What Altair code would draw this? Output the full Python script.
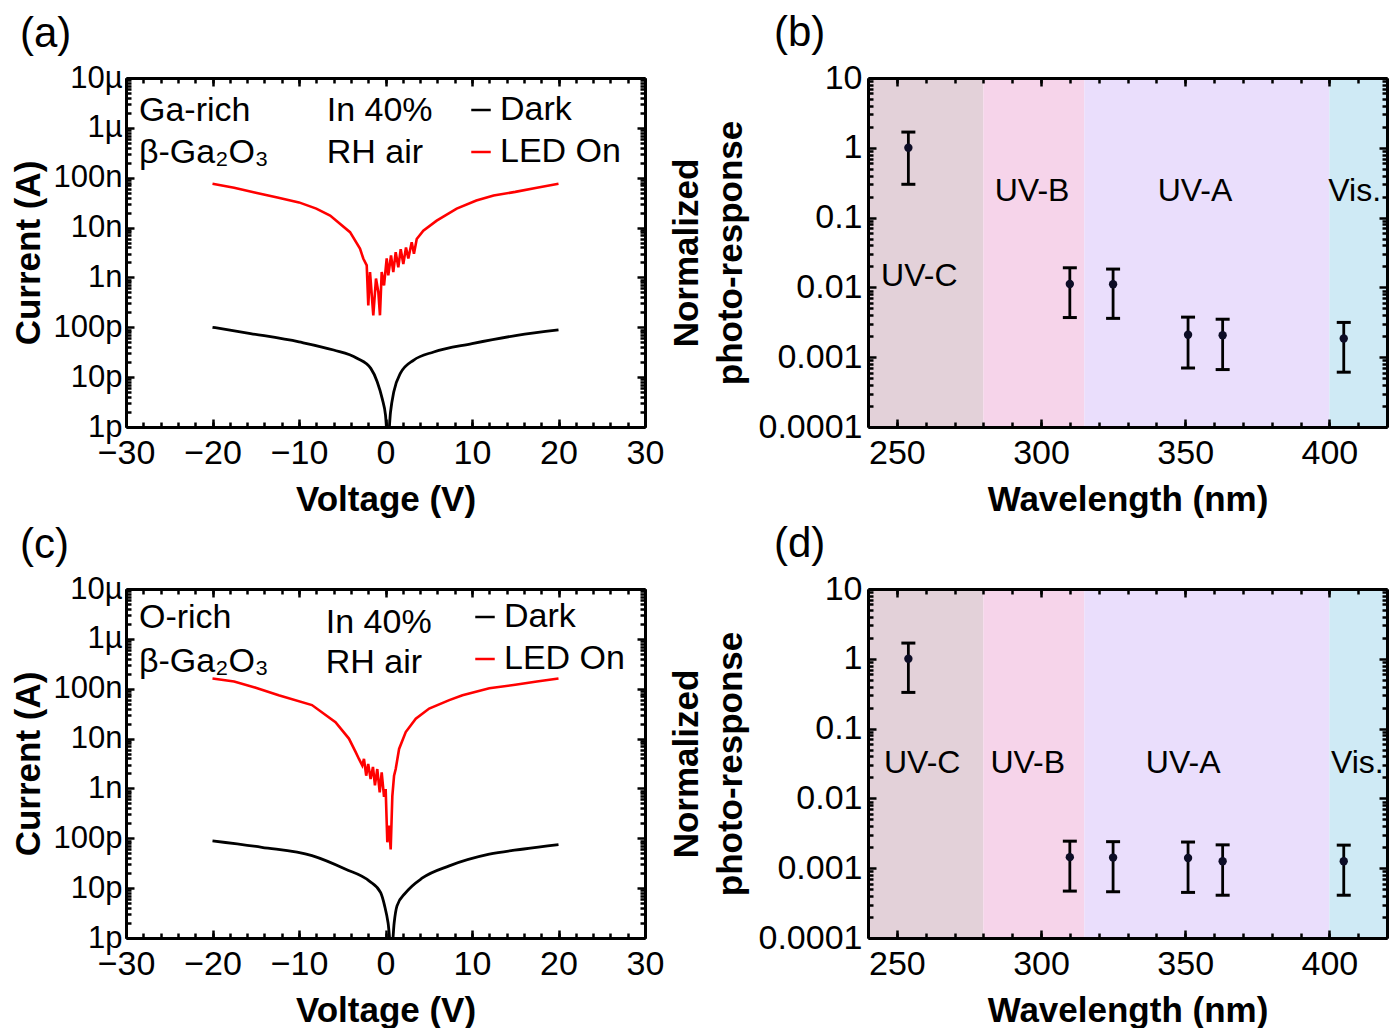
import altair as alt
import pandas as pd

FONT = "Liberation Sans"

# ---------------- panel (a): Ga-rich beta-Ga2O3 ----------------
a_dark_v = [-20, -15.6, -10, -6.0, -3.3, -1.7, -0.96, -0.38, 0.0, 0.27, 0.58, 0.96,
            1.73, 3.27, 5.57, 10, 15.2, 20]
a_dark_i = [1.0e-10, 7.5e-11, 5.1e-11, 3.5e-11, 2.4e-11, 1.5e-11, 8.1e-12, 3.7e-12,
            1.74e-12, 5e-13, 2.0e-12, 5.1e-12, 1.2e-11, 2.2e-11, 3.2e-11, 4.7e-11,
            6.9e-11, 8.9e-11]
a_led_v = [-20, -17.5, -15, -12.5, -10, -8, -6.4, -4.1,
           -2.95, -2.57, -2.17, -1.99, -1.79, -1.41, -1.10, -0.83, -0.64, -0.44, -0.17,
           0.14, 0.32, 0.64, 0.90, 1.18, 1.48, 1.76, 2.06, 2.37, 2.64, 3.03, 3.29, 3.61,
           4.37, 5.92, 8.23, 10.5, 12.5, 15, 17.5, 20]
a_led_i = [7.6e-8, 6.3e-8, 5.0e-8, 4.0e-8, 3.2e-8, 2.4e-8, 1.74e-8, 8.1e-9,
           3.8e-9, 2.4e-9, 1.74e-9, 2.75e-10, 1.28e-9, 1.74e-10, 9.5e-10, 5.1e-10, 1.74e-10, 1.28e-9, 6.9e-10,
           2.4e-9, 1.1e-9, 2.75e-9, 1.28e-9, 3.2e-9, 1.6e-9, 3.7e-9, 1.86e-9, 4.0e-9, 2.4e-9, 5.1e-9, 3.0e-9, 5.9e-9,
           8.7e-9, 1.38e-8, 2.4e-8, 3.5e-8, 4.4e-8, 5.2e-8, 6.3e-8, 7.6e-8]

# ---------------- panel (c): O-rich beta-Ga2O3 ----------------
c_dark_v = [-20, -14.3, -8.5, -4.6, -1.9, -0.56, -0.1, 0.3, 0.7, 1.0, 1.33, 2.34,
            4.27, 7.37, 12, 16, 20]
c_dark_i = [8.9e-11, 6.6e-11, 4.5e-11, 2.4e-11, 1.4e-11, 8.1e-12, 4.4e-12, 2.0e-12,
            5e-13, 2.0e-12, 4.4e-12, 8.1e-12, 1.6e-11, 2.8e-11, 4.8e-11, 6.1e-11, 7.5e-11]
c_led_v = [-20, -17.5, -15, -12.35, -8.5, -5.78, -4.23, -3.46,
           -3.07, -2.69, -2.49, -2.23, -2.0, -1.72, -1.45, -1.22, -0.95, -0.67, -0.44, -0.17,
           0.02, 0.21, 0.41, 0.60, 0.79, 0.99, 1.18, 1.57, 2.34, 3.5, 5.05, 7.37, 8.9,
           12, 15, 17.5, 20]
c_led_i = [1.6e-7, 1.4e-7, 1.05e-7, 7.4e-8, 4.7e-8, 2.14e-8, 1.0e-8, 5.4e-9,
           3.9e-9, 2.9e-9, 3.9e-9, 1.8e-9, 3.1e-9, 1.55e-9, 2.7e-9, 1.15e-9, 2.45e-9, 8.3e-10, 2.1e-9, 6.8e-10,
           9.7e-10, 8.3e-11, 1.8e-10, 6.0e-11, 7.0e-10, 1.8e-9, 2.45e-9, 6.2e-9, 1.35e-8, 2.5e-8, 4.0e-8, 5.9e-8, 7.4e-8,
           1.02e-7, 1.2e-7, 1.4e-7, 1.6e-7]

iv_series = ["Dark", "LED On"]
iv_colors = ["black", "red"]

a_note_text = ["Ga-rich", "β-Ga₂O₃", "In 40%", "RH air"]
a_note_v = [-28.5, -28.5, -6.8, -6.8]
a_note_i = [2.2e-6, 3.2e-7, 2.2e-6, 3.2e-7]
c_note_text = ["O-rich", "β-Ga₂O₃", "In 40%", "RH air"]
c_note_v = [-28.5, -28.5, -6.9, -6.9]
c_note_i = [2.6e-6, 3.5e-7, 2.1e-6, 3.3e-7]

# ---------------- panels (b),(d): normalized photo-response ----------------
wavelength = [254, 310, 325, 351, 363, 405]
b_resp = [1.0, 0.0112, 0.0111, 0.0021, 0.00206, 0.00185]
b_hi = [1.68, 0.0191, 0.0183, 0.00375, 0.0035, 0.00315]
b_lo = [0.30, 0.0037, 0.0036, 0.0007, 0.000665, 0.00061]
d_resp = [1.0, 0.00144, 0.00142, 0.00140, 0.00126, 0.00126]
d_hi = [1.68, 0.00244, 0.0024, 0.00237, 0.00216, 0.00214]
d_lo = [0.33, 0.00047, 0.00046, 0.00045, 0.00041, 0.00041]

band_names = ["UV-C", "UV-B", "UV-A", "Vis."]
band_start = [240, 280, 315, 400]
band_end = [280, 315, 400, 420]
band_colors = ["#e3d1d9", "#f6d4ea", "#eadefc", "#cfeaf5"]
b_label_x = [257.8, 296.9, 353.4, 408.8]
b_label_y = [0.0145, 0.24, 0.24, 0.24]
d_label_x = [258.8, 295.4, 349.3, 409.7]
d_label_y = [0.032, 0.032, 0.032, 0.032]

# ---------------- axis tick positions ----------------
v_major = [-30, -20, -10, 0, 10, 20, 30]
v_minor = list(range(-30, 31, 2))
i_major = [1e-12, 1e-11, 1e-10, 1e-9, 1e-8, 1e-7, 1e-6, 1e-5]
i_minor = [k * 10.0 ** e for e in range(-12, -5) for k in range(2, 10)]
wl_major = [250, 300, 350, 400]
wl_minor = list(range(240, 421, 10))
r_major = [1e-4, 1e-3, 1e-2, 1e-1, 1, 10]
r_minor = [k * 10.0 ** e for e in range(-4, 1) for k in range(2, 10)]

W, H = 519, 349
TITLE_OFFSET = 6
TITLE_SIZE = 42


def axis_layers(df, xf, yf, xscale, yscale, xmaj, xmin, ymaj, ymin,
                xtitle, ytitle, xfmt, yfmt, ylab_size, ytitle_pad, ylab_pad):
    common = dict(grid=False, zindex=1, tickColor="black", domainColor="black",
                  labelColor="black", titleColor="black")
    base = alt.Chart(df).mark_point(opacity=0)

    def lay(xa, ya):
        return base.encode(
            x=alt.X(f"{xf}:Q", scale=xscale, axis=xa),
            y=alt.Y(f"{yf}:Q", scale=yscale, axis=ya),
        )

    def tick_axis(orient, values, size):
        return alt.Axis(orient=orient, values=values, tickSize=size, offset=-size,
                        tickWidth=2.5, domain=False, labels=False, title=None, **common)

    def dom_axis(orient):
        return alt.Axis(orient=orient, ticks=False, labels=False, domain=True,
                        domainWidth=3, offset=0, title=None, **common)

    x_lab = alt.Axis(orient="bottom", values=xmaj, tickSize=8, offset=-8, tickWidth=2.5,
                     domain=False, format=xfmt, labelFont=FONT, labelFontSize=34,
                     labelPadding=9, labelOverlap=False, labelFlush=False,
                     title=xtitle, titleFont=FONT, titleFontSize=35, titleFontWeight="bold",
                     titlePadding=12, **common)
    y_lab = alt.Axis(orient="left", values=ymaj, tickSize=8, offset=-8, tickWidth=2.5,
                     domain=False, format=yfmt, labelFont=FONT, labelFontSize=ylab_size,
                     labelPadding=ylab_pad, labelOverlap=False, labelFlush=False,
                     title=ytitle, titleFont=FONT, titleFontSize=35, titleFontWeight="bold",
                     titlePadding=ytitle_pad, titleLineHeight=44, **common)
    return [
        lay(x_lab, y_lab),
        lay(tick_axis("top", xmaj, 8), tick_axis("right", ymaj, 8)),
        lay(tick_axis("bottom", xmin, 5), tick_axis("left", ymin, 5)),
        lay(tick_axis("top", xmin, 5), tick_axis("right", ymin, 5)),
        lay(dom_axis("bottom"), dom_axis("left")),
        lay(dom_axis("top"), dom_axis("right")),
    ]


def panel_title(tag, tdx):
    return alt.Title(tag, anchor="start", frame="group", dx=tdx, offset=TITLE_OFFSET,
                     font=FONT, fontSize=TITLE_SIZE, fontWeight="normal", color="black")


def iv_panel(tag, dark_v, dark_i, led_v, led_i, note_t, note_v, note_i, legx, legy, tdx):
    dark_df = pd.DataFrame({"V": dark_v, "I": dark_i, "series": "Dark"})
    led_df = pd.DataFrame({"V": led_v, "I": led_i, "series": "LED On"})
    df = pd.concat([dark_df, led_df], ignore_index=True)
    xs = alt.Scale(domain=[-30, 30], nice=False, zero=False)
    ys = alt.Scale(type="log", domain=[1e-12, 1e-5], nice=False)
    axes = axis_layers(df, "V", "I", xs, ys, v_major, v_minor, i_major, i_minor,
                       "Voltage (V)", "Current (A)", "d", "~s", 31, 7, 4)
    color = alt.Color("series:N", scale=alt.Scale(domain=iv_series, range=iv_colors),
                      legend=alt.Legend(orient="none", legendX=legx, legendY=legy, title=None,
                                        symbolType="stroke", symbolSize=380,
                                        symbolStrokeWidth=2.5, labelFont=FONT,
                                        labelFontSize=34, labelColor="black",
                                        rowPadding=8, labelOffset=2, padding=0))
    dark = alt.Chart(dark_df).mark_line(clip=True, strokeWidth=2.8,
                                        interpolate="monotone").encode(
        x=alt.X("V:Q", scale=xs, axis=None),
        y=alt.Y("I:Q", scale=ys, axis=None),
        order=alt.Order("V:Q"),
        color=color,
    )
    led = alt.Chart(led_df).mark_line(clip=True, strokeWidth=2.6).encode(
        x=alt.X("V:Q", scale=xs, axis=None),
        y=alt.Y("I:Q", scale=ys, axis=None),
        order=alt.Order("V:Q"),
        color=color,
    )
    notes_df = pd.DataFrame({"t": note_t, "V": note_v, "I": note_i})
    notes = alt.Chart(notes_df).mark_text(align="left", baseline="middle", font=FONT,
                                          fontSize=34, color="black").encode(
        x=alt.X("V:Q", scale=xs, axis=None),
        y=alt.Y("I:Q", scale=ys, axis=None),
        text="t:N",
    )
    return alt.layer(*axes, dark, led, notes).resolve_axis(
        x="independent", y="independent").properties(
        width=W, height=H, title=panel_title(tag, tdx))


def pr_panel(tag, resp, hi, lo, lab_x, lab_y, tdx):
    xs = alt.Scale(domain=[240, 420], nice=False, zero=False)
    ys = alt.Scale(type="log", domain=[1e-4, 10], nice=False)
    df = pd.DataFrame({"wl": wavelength, "r": resp, "hi": hi, "lo": lo})
    bands = pd.DataFrame({"band": band_names, "s": band_start, "e": band_end,
                          "lx": lab_x, "ly": lab_y})
    axes = axis_layers(df, "wl", "r", xs, ys, wl_major, wl_minor, r_major, r_minor,
                       "Wavelength (nm)", ["Normalized", "photo-response"], "d", "~g",
                       34, 10, 6)
    rects = alt.Chart(bands).mark_rect().encode(
        x=alt.X("s:Q", scale=xs, axis=None),
        x2="e:Q",
        color=alt.Color("band:N", scale=alt.Scale(domain=band_names, range=band_colors),
                        legend=None),
    )
    labels = alt.Chart(bands).mark_text(font=FONT, fontSize=32, color="black",
                                        baseline="middle").encode(
        x=alt.X("lx:Q", scale=xs, axis=None),
        y=alt.Y("ly:Q", scale=ys, axis=None),
        text="band:N",
    )
    rule = alt.Chart(df).mark_rule(color="black", strokeWidth=2.8).encode(
        x=alt.X("wl:Q", scale=xs, axis=None),
        y=alt.Y("lo:Q", scale=ys, axis=None),
        y2="hi:Q",
    )
    cap_hi = alt.Chart(df).mark_tick(orient="horizontal", color="black", size=14,
                                     thickness=3, opacity=1).encode(
        x=alt.X("wl:Q", scale=xs, axis=None),
        y=alt.Y("hi:Q", scale=ys, axis=None),
    )
    cap_lo = alt.Chart(df).mark_tick(orient="horizontal", color="black", size=14,
                                     thickness=3, opacity=1).encode(
        x=alt.X("wl:Q", scale=xs, axis=None),
        y=alt.Y("lo:Q", scale=ys, axis=None),
    )
    pts = alt.Chart(df).mark_circle(color="#0d0d26", size=70, opacity=1).encode(
        x=alt.X("wl:Q", scale=xs, axis=None),
        y=alt.Y("r:Q", scale=ys, axis=None),
    )
    return alt.layer(rects, *axes, labels, rule, cap_hi, cap_lo, pts).resolve_axis(
        x="independent", y="independent").properties(
        width=W, height=H, title=panel_title(tag, tdx))


pa = iv_panel("(a)", a_dark_v, a_dark_i, a_led_v, a_led_i, a_note_text,
              a_note_v, a_note_i, 338, 15, -106)
pb = pr_panel("(b)", b_resp, b_hi, b_lo, b_label_x, b_label_y, -94)
pc = iv_panel("(c)", c_dark_v, c_dark_i, c_led_v, c_led_i, c_note_text,
              c_note_v, c_note_i, 342, 11, -106)
pd_ = pr_panel("(d)", d_resp, d_hi, d_lo, d_label_x, d_label_y, -94)

chart = alt.concat(pa, pb, pc, pd_, columns=2, spacing={"row": 162, "column": 223},
                   bounds="flush").resolve_scale(
    color="independent").configure_view(stroke=None).properties(
    padding={"left": 3, "top": 4, "right": 0, "bottom": 0})

chart.save("out.html", embed_options={"renderer": "svg", "actions": False})
